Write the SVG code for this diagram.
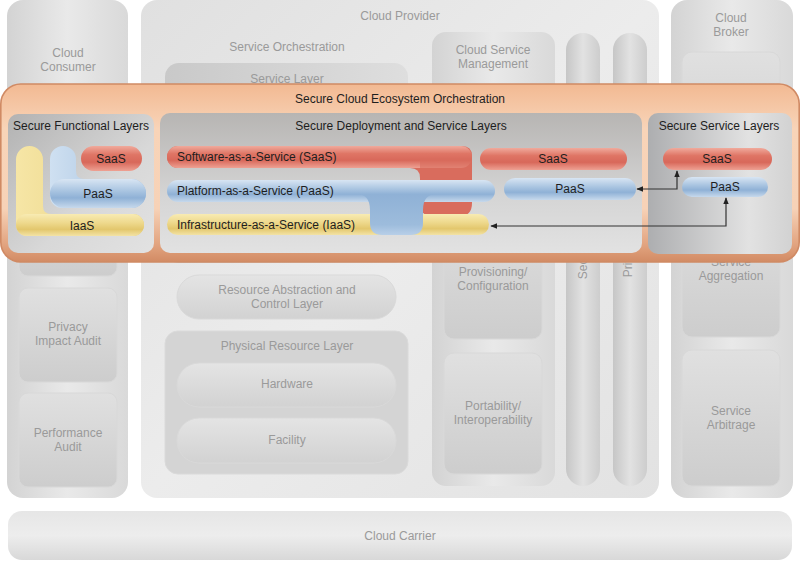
<svg xmlns="http://www.w3.org/2000/svg" width="800" height="562" viewBox="0 0 800 562">
<defs>
<linearGradient id="gCol" x1="0" y1="0" x2="1" y2="0">
<stop offset="0" stop-color="#d3d3d3"/><stop offset="0.5" stop-color="#e9e9e9"/><stop offset="1" stop-color="#d9d9d9"/>
</linearGradient>
<linearGradient id="gProv" x1="0" y1="0" x2="1" y2="1">
<stop offset="0" stop-color="#e0e0e0"/><stop offset="0.5" stop-color="#ececec"/><stop offset="1" stop-color="#e2e2e2"/>
</linearGradient>
<linearGradient id="gBox" x1="0" y1="0" x2="0" y2="1">
<stop offset="0" stop-color="#e0e0e0"/><stop offset="1" stop-color="#cdcdcd"/>
</linearGradient>
<linearGradient id="gBoxH" x1="0" y1="0" x2="1" y2="0">
<stop offset="0" stop-color="#c9c9c9"/><stop offset="1" stop-color="#dedede"/>
</linearGradient>
<linearGradient id="gPill" x1="0" y1="0" x2="0" y2="1">
<stop offset="0" stop-color="#e4e4e4"/><stop offset="1" stop-color="#d2d2d2"/>
</linearGradient>
<linearGradient id="gTube" x1="0" y1="0" x2="1" y2="0">
<stop offset="0" stop-color="#c6c6c6"/><stop offset="0.5" stop-color="#e2e2e2"/><stop offset="1" stop-color="#cdcdcd"/>
</linearGradient>
<linearGradient id="gCarrier" x1="0" y1="0" x2="0" y2="1">
<stop offset="0" stop-color="#e6e6e6"/><stop offset="0.5" stop-color="#ededed"/><stop offset="1" stop-color="#d8d8d8"/>
</linearGradient>
<linearGradient id="gBand" x1="0" y1="0" x2="0" y2="1">
<stop offset="0" stop-color="#f2b992"/><stop offset="0.25" stop-color="#f8d4b8"/><stop offset="0.7" stop-color="#f7d2b7"/><stop offset="0.9" stop-color="#e2a480"/><stop offset="1" stop-color="#d28b64"/>
</linearGradient>
<linearGradient id="gPanel" x1="0" y1="0" x2="1" y2="1">
<stop offset="0" stop-color="#b2b2b2"/><stop offset="0.6" stop-color="#d8d8d8"/><stop offset="1" stop-color="#e2e2e2"/>
</linearGradient>
<linearGradient id="gPanelM" x1="0" y1="0" x2="0" y2="1">
<stop offset="0" stop-color="#b7b5b3"/><stop offset="0.6" stop-color="#d5d5d5"/><stop offset="1" stop-color="#e2e2e2"/>
</linearGradient>
<linearGradient id="gPanelR" x1="0" y1="0" x2="1" y2="0">
<stop offset="0" stop-color="#adaeb0"/><stop offset="0.7" stop-color="#e2e2e2"/><stop offset="1" stop-color="#d2d2d2"/>
</linearGradient>
<linearGradient id="gRed" x1="0" y1="0" x2="0" y2="1">
<stop offset="0" stop-color="#f0aa9c"/><stop offset="0.35" stop-color="#df7565"/><stop offset="0.65" stop-color="#d8685a"/><stop offset="1" stop-color="#eea193"/>
</linearGradient>
<linearGradient id="gBlue" x1="0" y1="0" x2="0" y2="1">
<stop offset="0" stop-color="#d8e5f3"/><stop offset="0.4" stop-color="#aac5e1"/><stop offset="0.65" stop-color="#8fb1d6"/><stop offset="1" stop-color="#c7d9ec"/>
</linearGradient>
<linearGradient id="gYel" x1="0" y1="0" x2="0" y2="1">
<stop offset="0" stop-color="#f8ebb3"/><stop offset="0.4" stop-color="#eed98d"/><stop offset="0.7" stop-color="#e3c76d"/><stop offset="1" stop-color="#f3e3a6"/>
</linearGradient>
<linearGradient id="gYelV" x1="0" y1="0" x2="1" y2="0">
<stop offset="0" stop-color="#f6e6a6"/><stop offset="1" stop-color="#e6cc78"/>
</linearGradient>
<linearGradient id="gBlueV" x1="0" y1="0" x2="1" y2="0">
<stop offset="0" stop-color="#cfe0f1"/><stop offset="1" stop-color="#9dbcdc"/>
</linearGradient>
<linearGradient id="gDrop" x1="0" y1="0" x2="0" y2="1">
<stop offset="0" stop-color="#8fb1d6"/><stop offset="0.75" stop-color="#9dbcdc"/><stop offset="1" stop-color="#b8cfe8"/>
</linearGradient>
<marker id="ah" viewBox="0 0 10 10" refX="9" refY="5" markerWidth="7" markerHeight="7" orient="auto-start-reverse" markerUnits="userSpaceOnUse">
<path d="M0,1 L10,5 L0,9 Z" fill="#222"/>
</marker>
</defs>
<style>
.lbl{font-family:"Liberation Sans",Arial,sans-serif;font-size:12px;fill:#9a9a9a;text-anchor:middle}
.sec{font-family:"Liberation Sans",Arial,sans-serif;font-size:12px;fill:#1e1e1e;text-anchor:middle}
.secl{font-family:"Liberation Sans",Arial,sans-serif;font-size:12px;fill:#1e1e1e}
.box{fill:url(#gBox);stroke:#d8d8d8;stroke-width:1}
.pill{fill:url(#gPill);stroke:#d9d9d9;stroke-width:1}
.col{fill:url(#gCol)}
.tube{fill:url(#gTube)}
.conn{fill:none;stroke:#333;stroke-width:1.2}
</style>
<rect width="800" height="562" fill="#ffffff"/>

<g id="cloud-consumer">
<rect class="col" x="7" y="0" width="121" height="498" rx="16"/>
<text class="lbl" x="68" y="57">Cloud</text>
<text class="lbl" x="68" y="71">Consumer</text>
<rect class="box" x="19" y="183" width="98" height="93" rx="9"/>
<rect class="box" x="19" y="288" width="98" height="94" rx="9"/>
<text class="lbl" x="68" y="331">Privacy</text>
<text class="lbl" x="68" y="345">Impact Audit</text>
<rect class="box" x="19" y="393" width="98" height="94" rx="9"/>
<text class="lbl" x="68" y="437">Performance</text>
<text class="lbl" x="68" y="451">Audit</text>
</g>

<g id="cloud-provider">
<rect x="141" y="0" width="518" height="498" rx="16" fill="url(#gProv)"/>
<text class="lbl" x="400" y="20">Cloud Provider</text>
<text class="lbl" x="287" y="51">Service Orchestration</text>
<rect x="165" y="63" width="243" height="200" rx="14" fill="url(#gBoxH)"/>
<text class="lbl" x="287" y="83">Service Layer</text>
<rect class="pill" x="177" y="275" width="219" height="44" rx="22"/>
<text class="lbl" x="287" y="294">Resource Abstraction and</text>
<text class="lbl" x="287" y="308">Control Layer</text>
<rect x="165" y="331" width="243" height="143" rx="13" fill="#d4d4d4" stroke="#dadada"/>
<text class="lbl" x="287" y="350">Physical Resource Layer</text>
<rect class="pill" x="177" y="363" width="219" height="44" rx="22"/>
<text class="lbl" x="287" y="388">Hardware</text>
<rect class="pill" x="177" y="418" width="219" height="45" rx="22"/>
<text class="lbl" x="287" y="444">Facility</text>
<rect x="432" y="32" width="123" height="454" rx="14" fill="url(#gCol)"/>
<text class="lbl" x="493" y="54">Cloud Service</text>
<text class="lbl" x="493" y="68">Management</text>
<rect class="box" x="444" y="200" width="98" height="139" rx="10"/>
<text class="lbl" x="493" y="276">Provisioning/</text>
<text class="lbl" x="493" y="290">Configuration</text>
<rect class="box" x="444" y="353" width="98" height="121" rx="10"/>
<text class="lbl" x="493" y="410">Portability/</text>
<text class="lbl" x="493" y="424">Interoperability</text>
<rect class="tube" x="566" y="33" width="34" height="453" rx="17"/>
<text class="lbl" transform="translate(587,257.5) rotate(-90)">Security</text>
<rect class="tube" x="613" y="33" width="34" height="453" rx="17"/>
<text class="lbl" transform="translate(632,257.5) rotate(-90)">Privacy</text>
</g>

<g id="cloud-broker">
<rect class="col" x="671" y="0" width="122" height="498" rx="16"/>
<text class="lbl" x="731" y="22">Cloud</text>
<text class="lbl" x="731" y="36">Broker</text>
<rect class="box" x="682" y="52" width="98" height="136" rx="10"/>
<rect class="box" x="682" y="200" width="98" height="137" rx="10"/>
<text class="lbl" x="731" y="266">Service</text>
<text class="lbl" x="731" y="280">Aggregation</text>
<rect class="box" x="682" y="350" width="98" height="136" rx="10"/>
<text class="lbl" x="731" y="415">Service</text>
<text class="lbl" x="731" y="429">Arbitrage</text>
</g>

<g id="cloud-carrier">
<rect x="8" y="511" width="784" height="49" rx="14" fill="url(#gCarrier)"/>
<text class="lbl" x="400" y="540">Cloud Carrier</text>
</g>

<g id="secure-orchestration">
<rect x="0.8" y="84" width="798.4" height="178" rx="20" fill="url(#gBand)" stroke="#d08a64" stroke-width="1.6"/>
<text class="sec" x="400" y="103">Secure Cloud Ecosystem Orchestration</text>
</g>

<g id="secure-functional-layers">
<rect x="8" y="114" width="146" height="139" rx="10" fill="url(#gPanel)"/>
<text class="sec" x="81" y="130">Secure Functional Layers</text>
<path d="M16,159.5 A13.5,13.5 0 0 1 43,159.5 V206 Q43,214 51,214 H133 A11,11 0 0 1 133,236 H27 A11,11 0 0 1 16,225 Z" fill="url(#gYelV)"/>
<rect x="16" y="214" width="128" height="22" rx="11" fill="url(#gYel)"/>
<text class="sec" x="82" y="230">IaaS</text>
<path d="M50,159 A13,13 0 0 1 76,159 V171 Q76,179 84,179 H131.5 A14.5,14.5 0 0 1 131.5,208 H62 A12,12 0 0 1 50,196 Z" fill="url(#gBlueV)"/>
<rect x="50" y="179" width="96" height="29" rx="14.5" fill="url(#gBlue)"/>
<text class="sec" x="98" y="198">PaaS</text>
<rect x="81" y="146" width="61" height="25" rx="12.5" fill="url(#gRed)"/>
<text class="sec" x="111" y="163">SaaS</text>
</g>

<g id="secure-deployment-layers">
<rect x="160" y="113" width="482" height="140" rx="10" fill="url(#gPanelM)"/>
<text class="sec" x="401" y="130">Secure Deployment and Service Layers</text>
<path d="M178,146 H462 Q472,146 472,156 V203 Q472,216 460,216 H432 Q420,216 420,203 V178 Q420,168 410,168 H178 A11,11 0 0 1 178,146 Z" fill="#d96c5d"/>
<rect x="167" y="146" width="305" height="22" rx="11" fill="url(#gRed)"/>
<path d="M420,158 H472 V180 H420 Z" fill="#d96c5d" opacity="0.6"/>
<text class="secl" x="177" y="161">Software-as-a-Service (SaaS)</text>
<rect x="167" y="214" width="322" height="21" rx="10.5" fill="url(#gYel)"/>
<rect x="167" y="180" width="328" height="22" rx="11" fill="url(#gBlue)"/>
<path d="M356,194 Q370,194 370,210 V223 Q370,235 382,235 H411 Q423,235 423,223 V210 Q423,194 437,194 Z" fill="url(#gDrop)"/>
<text class="secl" x="177" y="195">Platform-as-a-Service (PaaS)</text>
<text class="secl" x="177" y="229">Infrastructure-as-a-Service (IaaS)</text>
<rect x="480" y="148" width="147" height="22" rx="11" fill="url(#gRed)"/>
<text class="sec" x="553" y="163">SaaS</text>
<rect x="504" y="178" width="132" height="22" rx="11" fill="url(#gBlue)"/>
<text class="sec" x="570" y="193">PaaS</text>
</g>

<g id="secure-service-layers">
<rect x="648" y="113" width="144" height="141" rx="10" fill="url(#gPanelR)"/>
<text class="sec" x="719" y="130">Secure Service Layers</text>
<rect x="663" y="148" width="109" height="22" rx="11" fill="url(#gRed)"/>
<text class="sec" x="717" y="163">SaaS</text>
<rect x="682" y="177" width="86" height="20" rx="10" fill="url(#gBlue)"/>
<text class="sec" x="725" y="191">PaaS</text>
</g>

<g id="connectors">
<path class="conn" d="M637,189 H677 V171" marker-start="url(#ah)" marker-end="url(#ah)"/>
<path class="conn" d="M726,198 V226 H491" marker-start="url(#ah)" marker-end="url(#ah)"/>
</g>
</svg>
